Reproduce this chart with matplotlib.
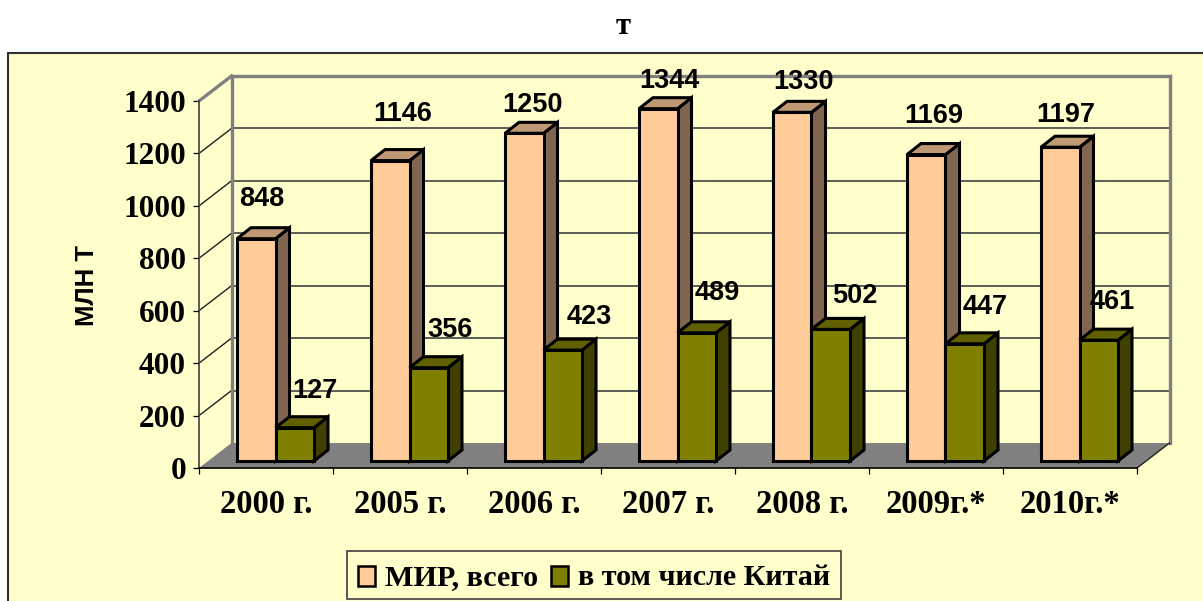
import matplotlib
matplotlib.use("Agg")
import matplotlib.pyplot as plt
from matplotlib.patches import Polygon, Rectangle, Patch

categories = ["2000 г.", "2005 г.", "2006 г.", "2007 г.", "2008 г.", "2009г.*", "2010г.*"]
world = [848, 1146, 1250, 1344, 1330, 1169, 1197]
china = [127, 356, 423, 489, 502, 447, 461]
y_ticks = [0, 200, 400, 600, 800, 1000, 1200, 1400]
series_names = ["МИР, всего", "в том числе Китай"]
chart_title = "т"
y_title = "МЛН Т"

# hand-placed label offsets from each bar's top centre (pixels)
world_label_dx = [6, 12, 8, 11, 11, 7, 6]
world_label_dy = [40, 47, 28, 28, 30, 39, 32]
china_label_dx = [20, 21, 26, 20, 24, 20, 14]
china_label_dy = [37, 38, 33, 40, 33, 37, 38]

W, H = 1203, 601
SERIF = "Liberation Serif"
SANS = "Liberation Sans"
BG = "#FFFFCC"

fig = plt.figure(figsize=(W / 100, H / 100), dpi=100, facecolor="white")
fig.add_artist(Rectangle((8 / W, -0.02), 1.02, 1 - 53 / H + 0.02, transform=fig.transFigure,
                         facecolor=BG, edgecolor="#303030", linewidth=1.5, zorder=-1))

L, R, T, B = 199, 1137, 101, 468
ax = fig.add_axes([L / W, 1 - B / H, (R - L) / W, (B - T) / H])
ax.set_facecolor("none")
ax.set_xlim(0, len(categories))
ax.set_ylim(0, y_ticks[-1])

px_x = len(categories) / (R - L)
px_y = y_ticks[-1] / (B - T)
DX, DY = 32.5 * px_x, 25 * px_y            # depth of the plot box
BX, BY = 14 * px_x, 11 * px_y              # depth of a bar
LIFT = 7 * px_y                            # bar bases sit above the front edge
BAR_W = 38.5 * px_x
BAR_L = 38 * px_x


def poly(pts, **kw):
    ax.add_patch(Polygon(pts, closed=True, clip_on=False, **kw))


n = len(categories)
ymax = y_ticks[-1]
poly([(0, 0), (n, 0), (n + DX, DY), (DX, DY)], facecolor="#808080", edgecolor="none", zorder=1)

for v in y_ticks[1:-1]:
    ax.plot([DX, n + DX], [v + DY, v + DY], color="#505050", lw=1.3, clip_on=False, zorder=1.5)
    ax.plot([0, DX], [v, v + DY], color="#202020", lw=1, clip_on=False, zorder=1.5)

grey = dict(color="#808080", lw=2.4, clip_on=False, zorder=1.6, solid_capstyle="projecting")
ax.plot([DX, n + DX], [ymax + DY, ymax + DY], **grey)
ax.plot([DX, DX], [DY, ymax + DY], **grey)
ax.plot([n + DX, n + DX], [DY, ymax + DY], **grey)
ax.plot([0, DX], [ymax, ymax + DY], **grey)
ax.plot([n, n + DX], [0, DY], color="#202020", lw=1, clip_on=False, zorder=1.6)


def bar3d(x, v, front, top, side, z):
    y0, y1 = LIFT, LIFT + v
    x1 = x + BAR_W
    e = dict(edgecolor="black", linewidth=2.2, joinstyle="miter", zorder=z)
    poly([(x1, y0), (x1 + BX, y0 + BY), (x1 + BX, y1 + BY), (x1, y1)], facecolor=side, **e)
    poly([(x, y1), (x1, y1), (x1 + BX, y1 + BY), (x + BX, y1 + BY)], facecolor=top, **e)
    poly([(x, y0), (x1, y0), (x1, y1), (x, y1)], facecolor=front, **e)


for i in range(n):
    bar3d(i + BAR_L, world[i], "#FFCC99", "#BF9973", "#806650", 2 + i * 0.01)
for i in range(n):
    bar3d(i + BAR_L + BAR_W, china[i], "#808000", "#606000", "#404000", 3 + i * 0.01)

label_kw = dict(xycoords="data", textcoords="offset pixels", ha="center", va="center",
                family=SANS, fontweight="bold", fontsize=19.5, color="black", zorder=6,
                annotation_clip=False)
for i in range(n):
    ax.annotate(str(world[i]), (i + BAR_L + BAR_W / 2, LIFT + world[i]),
                xytext=(world_label_dx[i], world_label_dy[i]), **label_kw)
    ax.annotate(str(china[i]), (i + BAR_L + BAR_W * 1.5, LIFT + china[i]),
                xytext=(china_label_dx[i], china_label_dy[i]), **label_kw)

for s in ("top", "right"):
    ax.spines[s].set_visible(False)
ax.spines["left"].set_color("#404040")
ax.spines["left"].set_linewidth(1.2)
ax.spines["bottom"].set_color("black")
ax.spines["bottom"].set_linewidth(1.2)
ax.spines["left"].set_zorder(1.7)
ax.spines["bottom"].set_zorder(1.7)

ax.set_yticks(y_ticks)
ax.set_xticks(range(n + 1))
ax.set_xticklabels([])
ax.set_xticks([i + 0.5 for i in range(n)], labels=categories, minor=True)
ax.tick_params(axis="x", which="major", length=4.3, width=0.9, color="black")
ax.tick_params(axis="x", which="minor", length=0, pad=15)
ax.tick_params(axis="y", length=4.3, width=0.9, pad=5, color="black")
for t in ax.get_yticklabels():
    t.set(family=SERIF, fontweight="bold", fontsize=22.5)
for t in ax.get_xticklabels(minor=True):
    t.set(family=SERIF, fontweight="bold", fontsize=23.5)

ax.set_ylabel(y_title, family=SANS, fontweight="bold", fontsize=18.5)
ax.yaxis.set_label_coords((99 - L) / (R - L), (B - 286) / (B - T))

fig.suptitle(chart_title, x=623 / W, y=1 - 27 / H, va="center", family=SERIF,
             fontweight="bold", fontsize=22)

handles = [Patch(facecolor="#FFCC99", edgecolor="black", linewidth=1.8),
           Patch(facecolor="#808000", edgecolor="black", linewidth=1.8)]
leg = fig.legend(handles, series_names, loc="lower left", ncol=2,
                 bbox_to_anchor=(347 / W, 1 - 599 / H), bbox_transform=fig.transFigure,
                 borderaxespad=0, frameon=True, fancybox=False, facecolor=BG,
                 edgecolor="#404040", framealpha=1,
                 prop={"family": SERIF, "weight": "bold", "size": 21.7},
                 handlelength=0.58, handleheight=0.62, handletextpad=0.33,
                 columnspacing=0.42, borderpad=0.35)
leg.get_frame().set_linewidth(1.2)
for t in leg.get_texts():
    t.set_y(-3)
for p in leg.get_patches():
    p.set_y(p.get_y() - 3)

fig.savefig("out.png", dpi=100, facecolor="white")
